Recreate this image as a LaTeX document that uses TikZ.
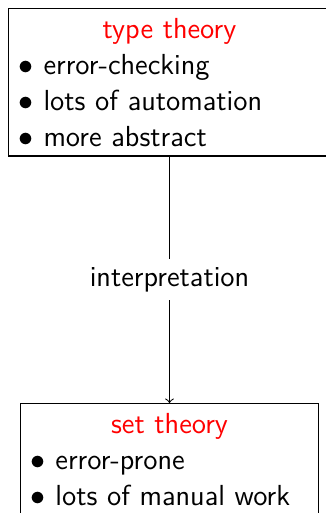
\documentclass[tikz,border=0pt]{standalone}
\begin{document}
\begin{tikzpicture}[x=0.4pt,y=-0.4pt,
    theory/.style={draw, line width=0.5pt, anchor=north, align=left,
      inner xsep=4.2pt, inner ysep=3.8pt,
      font=\sffamily\fontsize{11.6}{14.4}\selectfont}]
  \useasboundingbox (0,0) rectangle (326,513);

  \node[theory, text width=120.5pt] (tt) at (169.5,8)
    {\makebox[\linewidth]{\color{red}type theory}\\
     $\bullet$ error-checking\\
     $\bullet$ lots of automation\\
     $\bullet$ more abstract};
  \node[theory, text width=111pt] (st) at (169.5,403)
    {\makebox[\linewidth]{\color{red}set theory}\\
     $\bullet$ error-prone\\
     $\bullet$ lots of manual work};

  \draw[->, line width=0.4pt] (tt) -- node[fill=white, font=\sffamily\fontsize{11.6}{14.4}\selectfont] {interpretation} (st);
\end{tikzpicture}
\end{document}
